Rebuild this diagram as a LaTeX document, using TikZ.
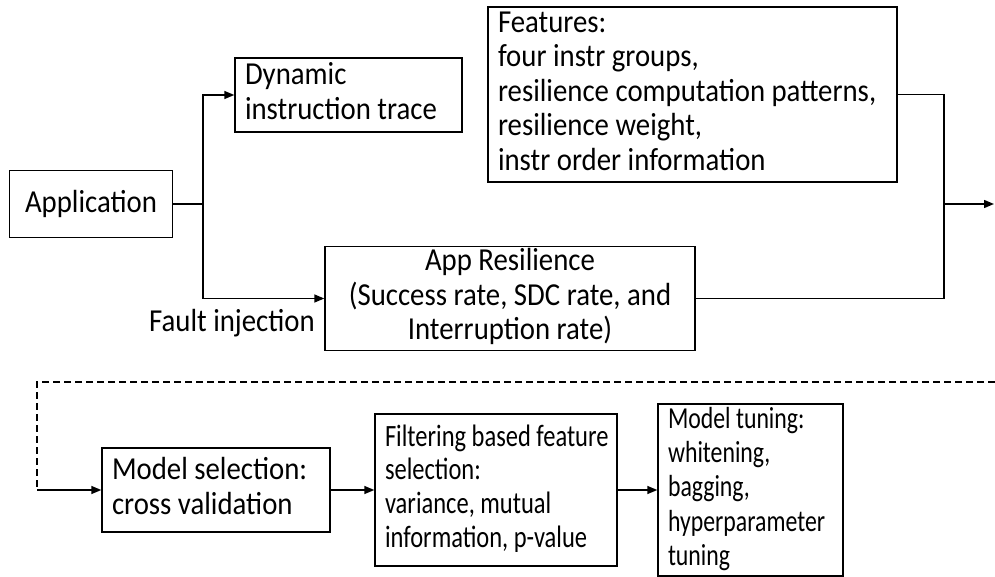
\documentclass[tikz,border=0pt]{standalone}
\usepackage{fontspec}
\setmainfont{Carlito}[FakeStretch=0.9]
\newfontfamily\filtfont{Carlito}[FakeStretch=0.79]
\newfontfamily\tunefont{Carlito}[FakeStretch=0.78]
\usetikzlibrary{arrows.meta}
% left-aligned block of lines in a box of the given width
\newcommand{\leftlines}[2]{\makebox[#1][l]{\begin{tabular}{@{}l@{}}#2\end{tabular}}}
\newcommand{\midlines}[1]{\begin{tabular}{@{}c@{}}#1\end{tabular}}
\tikzset{
  box/.style={draw, line width=1.4pt, inner xsep=10pt, inner ysep=0pt,
    font=\fontsize{32}{34.5}\selectfont},
  conn/.style={line width=1.4pt},
  arr/.style={conn, -{Triangle[length=10pt,width=8pt]}},
  dashline/.style={line width=1.2pt, dash pattern=on 7pt off 4pt},
  lbl/.style={font=\fontsize{32}{34.5}\selectfont, inner sep=0pt}
}
\begin{document}
\begin{tikzpicture}[x=1pt,y=-1pt]
\useasboundingbox (0,0) rectangle (995,577);

% upper row: trace and fault-injection paths
\node[box, minimum width=163pt, minimum height=67pt] (app) at (91,204) {Application};
\node[box, minimum width=227pt, minimum height=74pt] (dyn) at (348.5,95)
  {\leftlines{207pt}{Dynamic\\instruction trace}};
\node[box, minimum width=409pt, minimum height=175pt] (feat) at (692.5,94.5)
  {\leftlines{389pt}{Features:\\four instr groups,\\resilience computation patterns,\\resilience weight,\\instr order information}};
\node[box, minimum width=370pt, minimum height=97pt] (res) at (510,298.5)
  {\midlines{App Resilience\\(Success rate, SDC rate, and\\Interruption rate)}};
\node[lbl] (fault) at (232,323) {Fault injection};

\coordinate (split) at (203,204);
\coordinate (merge) at (944,204);
\coordinate (out) at (994,204);

\draw[conn] (app.east) -- (split);
\draw[arr] (split) |- (dyn.west);
\draw[arr] (split) |- (res.west);
\draw[conn] (feat.east) -| (merge);
\draw[conn] (res.east) -| (merge);
\draw[arr] (merge) -- (out);

% lower row: model building
\node[box, minimum width=228pt, minimum height=84pt] (sel) at (216,490)
  {\leftlines{208pt}{Model selection:\\cross validation}};
\node[box, minimum width=242pt, minimum height=152pt,
  font=\filtfont\fontsize{31}{33.7}\selectfont] (filt) at (496,490)
  {\leftlines{222pt}{Filtering based feature\\selection:\\variance, mutual\\information, p-value}};
\node[box, minimum width=185pt, minimum height=172pt,
  font=\tunefont\fontsize{30.5}{34.2}\selectfont] (tune) at (750.5,490)
  {\leftlines{165pt}{Model tuning:\\whitening,\\bagging,\\hyperparameter\\tuning}};

\coordinate (din) at (995,382);
\coordinate (dcorner) at (37,382);
\coordinate (dturn) at (37,490);
\draw[dashline] (din) -- (dcorner) -- (dturn);
\draw[arr] (dturn) -- (sel.west);
\draw[arr] (sel.east) -- (filt.west);
\draw[arr] (filt.east) -- (tune.west);
\end{tikzpicture}
\end{document}
